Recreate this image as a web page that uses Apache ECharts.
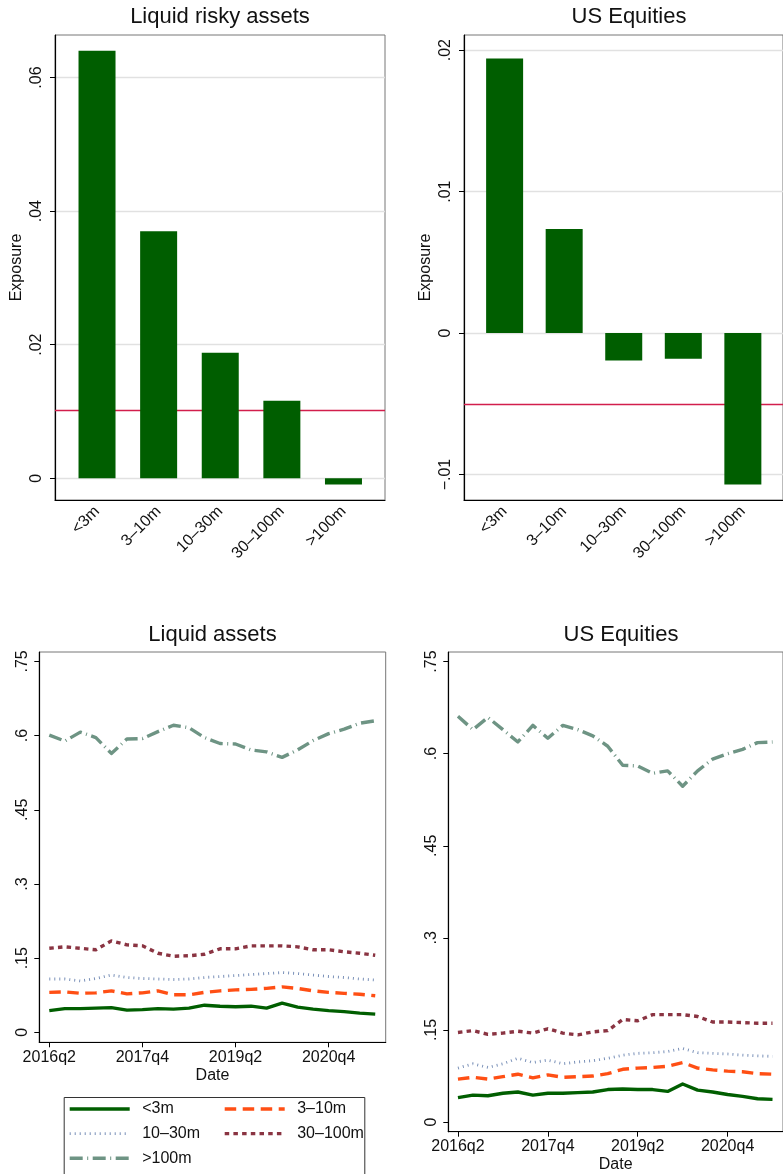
<!DOCTYPE html>
<html>
<head>
<meta charset="utf-8">
<script src="https://cdn.jsdelivr.net/npm/echarts@6/dist/echarts.min.js"></script>
<style>
  html, body { margin: 0; padding: 0; background: #fff; }
  #chart { width: 783px; height: 1174px; }
</style>
</head>
<body>
<div id="chart"></div>
<script>
// Size buckets (also the series names in the time-series panels)
const categories = ['<3m', '3–10m', '10–30m', '30–100m', '>100m'];

// Cross-sectional exposure by size bucket
const riskyExposure  = [0.0640, 0.0370, 0.0188, 0.0116, -0.00095];
const equityExposure = [0.0194, 0.00735, -0.00194, -0.00181, -0.0107];
const riskyReference  = 0.0102;
const equityReference = -0.0050;
const riskyTicks  = [0, 0.02, 0.04, 0.06];
const equityTicks = [-0.01, 0, 0.01, 0.02];

// Quarterly shares
const quarters = ['2016q2','2016q3','2016q4','2017q1','2017q2','2017q3','2017q4','2018q1',
  '2018q2','2018q3','2018q4','2019q1','2019q2','2019q3','2019q4','2020q1','2020q2','2020q3',
  '2020q4','2021q1','2021q2','2021q3'];
const dateTicks  = ['2016q2', '2017q4', '2019q2', '2020q4'];
const shareTicks = [0, 0.15, 0.3, 0.45, 0.6, 0.75];

const liquidLt3m    = [0.044, 0.048, 0.048, 0.049, 0.050, 0.045, 0.046, 0.048, 0.047, 0.049, 0.055, 0.053, 0.052, 0.053, 0.049, 0.059, 0.051, 0.047, 0.044, 0.042, 0.039, 0.037];
const liquid3to10   = [0.081, 0.082, 0.079, 0.080, 0.084, 0.078, 0.080, 0.084, 0.076, 0.076, 0.081, 0.084, 0.086, 0.087, 0.089, 0.092, 0.089, 0.084, 0.081, 0.079, 0.077, 0.074];
const liquid10to30  = [0.108, 0.108, 0.104, 0.109, 0.116, 0.111, 0.109, 0.108, 0.107, 0.108, 0.111, 0.113, 0.115, 0.117, 0.119, 0.121, 0.119, 0.116, 0.113, 0.111, 0.108, 0.106];
const liquid30to100 = [0.170, 0.173, 0.170, 0.167, 0.185, 0.177, 0.175, 0.160, 0.154, 0.155, 0.158, 0.169, 0.169, 0.175, 0.175, 0.175, 0.173, 0.167, 0.167, 0.163, 0.160, 0.156];
const liquidGt100   = [0.601, 0.589, 0.607, 0.596, 0.564, 0.593, 0.594, 0.608, 0.621, 0.616, 0.596, 0.584, 0.583, 0.571, 0.567, 0.556, 0.571, 0.590, 0.604, 0.613, 0.625, 0.630];

const equityLt3m    = [0.040, 0.044, 0.043, 0.047, 0.049, 0.044, 0.047, 0.047, 0.048, 0.049, 0.053, 0.054, 0.053, 0.053, 0.050, 0.062, 0.052, 0.049, 0.045, 0.042, 0.038, 0.037];
const equity3to10   = [0.070, 0.073, 0.070, 0.074, 0.078, 0.072, 0.077, 0.073, 0.074, 0.075, 0.079, 0.086, 0.088, 0.089, 0.091, 0.097, 0.088, 0.085, 0.083, 0.082, 0.079, 0.078];
const equity10to30  = [0.088, 0.095, 0.089, 0.095, 0.104, 0.097, 0.101, 0.095, 0.098, 0.100, 0.104, 0.109, 0.112, 0.113, 0.115, 0.120, 0.113, 0.112, 0.111, 0.109, 0.108, 0.107];
const equity30to100 = [0.146, 0.149, 0.143, 0.145, 0.148, 0.145, 0.152, 0.145, 0.142, 0.147, 0.149, 0.167, 0.165, 0.175, 0.175, 0.175, 0.172, 0.163, 0.163, 0.162, 0.161, 0.161];
const equityGt100   = [0.661, 0.639, 0.659, 0.639, 0.619, 0.646, 0.625, 0.646, 0.639, 0.629, 0.612, 0.581, 0.580, 0.568, 0.572, 0.547, 0.572, 0.591, 0.600, 0.607, 0.618, 0.619];

const FONT = '"Liberation Sans", Arial, Helvetica, sans-serif';
const INK = '#111';
const BAR_GREEN = '#005e00';
const REF_RED = '#d21e4c';

// Stata-style tick text: ".02", "0", "−.01"
function fmtTick(v) {
  if (Math.abs(v) < 1e-12) return '0';
  let s = parseFloat(v.toFixed(4)).toString();
  s = s.replace(/^(-?)0\./, '$1.');
  return s.replace('-', '\u2212');
}

const lineStyles = [
  { color: '#005e00', width: 3.4, type: 'solid' },
  { color: '#ff4f14', width: 3.4, type: [11.5, 6.5] },
  { color: '#7990b8', width: 2.8, type: [1, 4] },
  { color: '#8a3442', width: 3.4, type: [4.5, 4.2] },
  { color: '#6e9484', width: 3.4, type: [13, 4.5, 1, 4.5] }
];

const liquidSeries = [liquidLt3m, liquid3to10, liquid10to30, liquid30to100, liquidGt100];
const equitySeries = [equityLt3m, equity3to10, equity10to30, equity30to100, equityGt100];

const catIdx = categories.map((c, i) => i);
const dateIdx = dateTicks.map(t => quarters.indexOf(t));

function barXAxis(gridIndex) {
  return {
    type: 'value', gridIndex, min: -0.682, max: 4.674,
    axisLine: { show: true, onZero: false, lineStyle: { color: '#000', width: 1.2 } },
    axisTick: { show: false },
    splitLine: { show: false },
    axisLabel: {
      customValues: catIdx, rotate: 45, margin: 9,
      fontFamily: FONT, fontSize: 16, color: INK,
      formatter: v => categories[Math.round(v)]
    }
  };
}
function barYAxis(gridIndex, min, max, ticks) {
  return {
    type: 'value', gridIndex, min, max,
    name: 'Exposure', nameLocation: 'middle', nameGap: 30, nameRotate: 90,
    nameTextStyle: { fontFamily: FONT, fontSize: 16, color: INK },
    axisLine: { show: true, onZero: false, lineStyle: { color: '#000', width: 1.2 } },
    axisTick: { show: true, length: 5, customValues: ticks, lineStyle: { color: '#000' } },
    axisLabel: { customValues: ticks, rotate: 90, margin: 10, fontFamily: FONT, fontSize: 16, color: INK, formatter: fmtTick },
    splitLine: { show: true, lineStyle: { color: '#e1e1e1', width: 1.3 } }
  };
}
function dateXAxis(gridIndex) {
  return {
    type: 'value', gridIndex, min: -0.644, max: 21.675,
    name: 'Date', nameLocation: 'middle', nameGap: 25,
    nameTextStyle: { fontFamily: FONT, fontSize: 16, color: INK },
    axisLine: { show: true, onZero: false, lineStyle: { color: '#000', width: 1.2 } },
    axisTick: { show: true, length: 5, customValues: dateIdx, lineStyle: { color: '#000' } },
    axisLabel: { customValues: dateIdx, margin: 7, fontFamily: FONT, fontSize: 16, color: INK, formatter: v => quarters[Math.round(v)] },
    splitLine: { show: false }
  };
}
function shareYAxis(gridIndex, min, max) {
  return {
    type: 'value', gridIndex, min, max,
    axisLine: { show: true, onZero: false, lineStyle: { color: '#000', width: 1.2 } },
    axisTick: { show: true, length: 5, customValues: shareTicks, lineStyle: { color: '#000' } },
    axisLabel: { customValues: shareTicks, rotate: 90, margin: 9, fontFamily: FONT, fontSize: 16, color: INK, formatter: fmtTick },
    splitLine: { show: false }
  };
}

function barSeries(axisIndex, values, ref) {
  return {
    type: 'bar', xAxisIndex: axisIndex, yAxisIndex: axisIndex,
    barWidth: 37, z: 3,
    itemStyle: { color: BAR_GREEN },
    data: values.map((v, i) => [i, v]),
    markLine: {
      z: 1, silent: true, symbol: 'none', precision: 6, label: { show: false },
      lineStyle: { color: REF_RED, width: 1.4, type: 'solid' },
      data: [{ yAxis: ref }]
    }
  };
}
function shareSeries(axisIndex, sets) {
  return sets.map((vals, k) => ({
    type: 'line', name: categories[k], xAxisIndex: axisIndex, yAxisIndex: axisIndex,
    symbol: 'none', z: 10 - k,
    lineStyle: Object.assign({ cap: 'butt', join: 'round' }, lineStyles[k]),
    itemStyle: { color: lineStyles[k].color },
    data: vals.map((v, i) => [i, v])
  }));
}

const titleStyle = { fontFamily: FONT, fontSize: 22, fontWeight: 'normal', color: INK };
const legendCommon = {
  orient: 'vertical', top: 1101, itemWidth: 60, itemHeight: 16, itemGap: 8.6,
  padding: 0, selectedMode: false,
  // line sample only, no marker on top of it
  itemStyle: { color: 'rgba(0,0,0,0)', borderWidth: 0, opacity: 0 },
  lineStyle: { width: 'inherit', type: 'inherit', cap: 'butt' },
  textStyle: { fontFamily: FONT, fontSize: 16, lineHeight: 16, color: INK, padding: [0, 0, 0, 7.5] }
};

const chart = echarts.init(document.getElementById('chart'), null, { renderer: 'canvas' });
chart.setOption({
  animation: false,
  backgroundColor: '#fff',
  title: [
    { text: 'Liquid risky assets', left: 220, top: 6, textAlign: 'center', padding: 0, textStyle: titleStyle },
    { text: 'US Equities', left: 629, top: 6, textAlign: 'center', padding: 0, textStyle: titleStyle },
    { text: 'Liquid assets', left: 212.5, top: 624, textAlign: 'center', padding: 0, textStyle: titleStyle },
    { text: 'US Equities', left: 621, top: 624, textAlign: 'center', padding: 0, textStyle: titleStyle }
  ],
  grid: [
    { left: 55, top: 35, width: 330, height: 465, show: true, borderColor: '#777', borderWidth: 1 },
    { left: 464, top: 35, width: 330, height: 465, show: true, borderColor: '#777', borderWidth: 1 },
    { left: 39.3, top: 652, width: 346.4, height: 390.3, show: true, borderColor: '#777', borderWidth: 1 },
    { left: 448.3, top: 652, width: 346.4, height: 479.7, show: true, borderColor: '#777', borderWidth: 1 }
  ],
  xAxis: [barXAxis(0), barXAxis(1), dateXAxis(2), Object.assign(dateXAxis(3), { min: -0.645, max: 21.70 })],
  yAxis: [
    barYAxis(0, -0.00326, 0.06637, riskyTicks),
    barYAxis(1, -0.0118, 0.02107, equityTicks),
    shareYAxis(2, -0.020, 0.769),
    shareYAxis(3, -0.0156, 0.7655)
  ],
  legend: [
    Object.assign({ left: 68, data: [categories[0], categories[2], categories[4]] }, legendCommon),
    Object.assign({ left: 223, data: [categories[1], categories[3]] }, legendCommon)
  ],
  graphic: [{
    type: 'rect', left: 61.7, top: 1095, silent: true,
    shape: { width: 300.6, height: 78 },
    style: { fill: 'none', stroke: '#333', lineWidth: 1 }
  }],
  series: [
    barSeries(0, riskyExposure, riskyReference),
    barSeries(1, equityExposure, equityReference),
    ...shareSeries(2, liquidSeries),
    ...shareSeries(3, equitySeries)
  ]
});
</script>
</body>
</html>
